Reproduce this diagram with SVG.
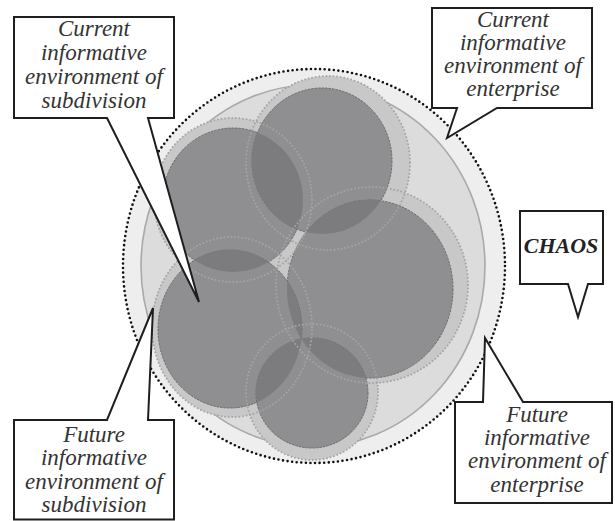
<svg xmlns="http://www.w3.org/2000/svg" width="615" height="521" viewBox="0 0 615 521">
<style>
.halo{fill:#c8c8c8;stroke:none}
.haloline{fill:none;stroke:#a4a4a4;stroke-width:2;stroke-dasharray:0 3.6;stroke-linecap:round}
.dark{fill:#8f8f91;stroke:#6a6a6c;stroke-width:1;stroke-dasharray:2.5 1}
.lens{fill:#7c7c7f}
.call{fill:#fff;stroke:#1e1e1e;stroke-width:2;stroke-linejoin:miter}
.t{font-family:"Liberation Serif","Times New Roman",serif;font-style:italic;font-size:23px;fill:#333;text-anchor:middle}
.b{font-weight:bold;font-size:22px;fill:#222}
</style>
<defs>
<clipPath id="cA"><ellipse cx="233" cy="200" rx="70" ry="72"/></clipPath>
<clipPath id="cB"><ellipse cx="322" cy="161" rx="70" ry="73"/></clipPath>
<clipPath id="cC"><ellipse cx="370" cy="289" rx="83" ry="89"/></clipPath>
<clipPath id="cD"><ellipse cx="230" cy="329" rx="72" ry="79"/></clipPath>
<clipPath id="cE"><ellipse cx="312" cy="393" rx="56" ry="55"/></clipPath>
</defs>
<rect width="615" height="521" fill="#fff"/>
<g id="enterprise">
<ellipse cx="314" cy="266" rx="191" ry="197" fill="#eeeeee" stroke="#111" stroke-width="2.6" stroke-dasharray="0 4.6" stroke-linecap="round"/>
<ellipse cx="313" cy="266" rx="172" ry="181" fill="#dcdcdc" stroke="#a9a9a9" stroke-width="1.6"/>
</g>
<g id="future-subdivisions">
<ellipse class="halo" cx="233" cy="200" rx="79" ry="82"/>
<ellipse class="halo" cx="328" cy="163" rx="82" ry="87"/>
<ellipse class="halo" cx="372" cy="285" rx="96" ry="98"/>
<ellipse class="halo" cx="232" cy="327" rx="80" ry="90"/>
<ellipse class="halo" cx="312" cy="392" rx="66" ry="68"/>
</g>
<g id="current-subdivisions">
<ellipse class="dark" cx="233" cy="200" rx="70" ry="72"/>
<ellipse class="dark" cx="322" cy="161" rx="70" ry="73"/>
<ellipse class="dark" cx="370" cy="289" rx="83" ry="89"/>
<ellipse class="dark" cx="230" cy="329" rx="72" ry="79"/>
<ellipse class="dark" cx="312" cy="393" rx="56" ry="55"/>
<ellipse class="lens" clip-path="url(#cB)" cx="233" cy="200" rx="70" ry="72"/>
<ellipse class="lens" clip-path="url(#cD)" cx="233" cy="200" rx="70" ry="72"/>
<ellipse class="lens" clip-path="url(#cC)" cx="322" cy="161" rx="70" ry="73"/>
<ellipse class="lens" clip-path="url(#cD)" cx="370" cy="289" rx="83" ry="89"/>
<ellipse class="lens" clip-path="url(#cE)" cx="370" cy="289" rx="83" ry="89"/>
<ellipse class="lens" clip-path="url(#cE)" cx="230" cy="329" rx="72" ry="79"/>
</g>
<g id="future-outlines">
<ellipse class="haloline" cx="233" cy="200" rx="79" ry="82"/>
<ellipse class="haloline" cx="328" cy="163" rx="82" ry="87"/>
<ellipse class="haloline" cx="372" cy="285" rx="96" ry="98"/>
<ellipse class="haloline" cx="232" cy="327" rx="80" ry="90"/>
<ellipse class="haloline" cx="312" cy="392" rx="66" ry="68"/>
</g>
<g id="connectors">
</g>
<g id="callout-current-subdivision">
<path class="call" d="M14,17 H174 V118 H148 L199,302 L107,118 H14 Z"/>
<text class="t" x="94" y="36">Current</text>
<text class="t" x="94" y="60">informative</text>
<text class="t" x="94" y="84">environment of</text>
<text class="t" x="94" y="108">subdivision</text>
</g>
<g id="callout-current-enterprise">
<path class="call" d="M432,8 H592 V108 H497 L447,138 L457,108 H432 Z"/>
<text class="t" x="513" y="27">Current</text>
<text class="t" x="513" y="50">informative</text>
<text class="t" x="513" y="73">environment of</text>
<text class="t" x="513" y="96">enterprise</text>
</g>
<g id="callout-chaos">
<path class="call" d="M520,211 H603 V284 H588 L578,317 L568,284 H520 Z"/>
<text class="t b" x="561" y="253">CHAOS</text>
</g>
<g id="callout-future-subdivision">
<path class="call" d="M14,420 H107 L153,308 L148,420 H174 V519.5 H14 Z"/>
<text class="t" x="94" y="442">Future</text>
<text class="t" x="94" y="465">informative</text>
<text class="t" x="94" y="489">environment of</text>
<text class="t" x="94" y="512">subdivision</text>
</g>
<g id="callout-future-enterprise">
<path class="call" d="M455,402 H483 L485,338 L523,402 H612 V503 H455 Z"/>
<text class="t" x="537" y="422">Future</text>
<text class="t" x="537" y="445">informative</text>
<text class="t" x="537" y="468">environment of</text>
<text class="t" x="537" y="492">enterprise</text>
</g>
</svg>
